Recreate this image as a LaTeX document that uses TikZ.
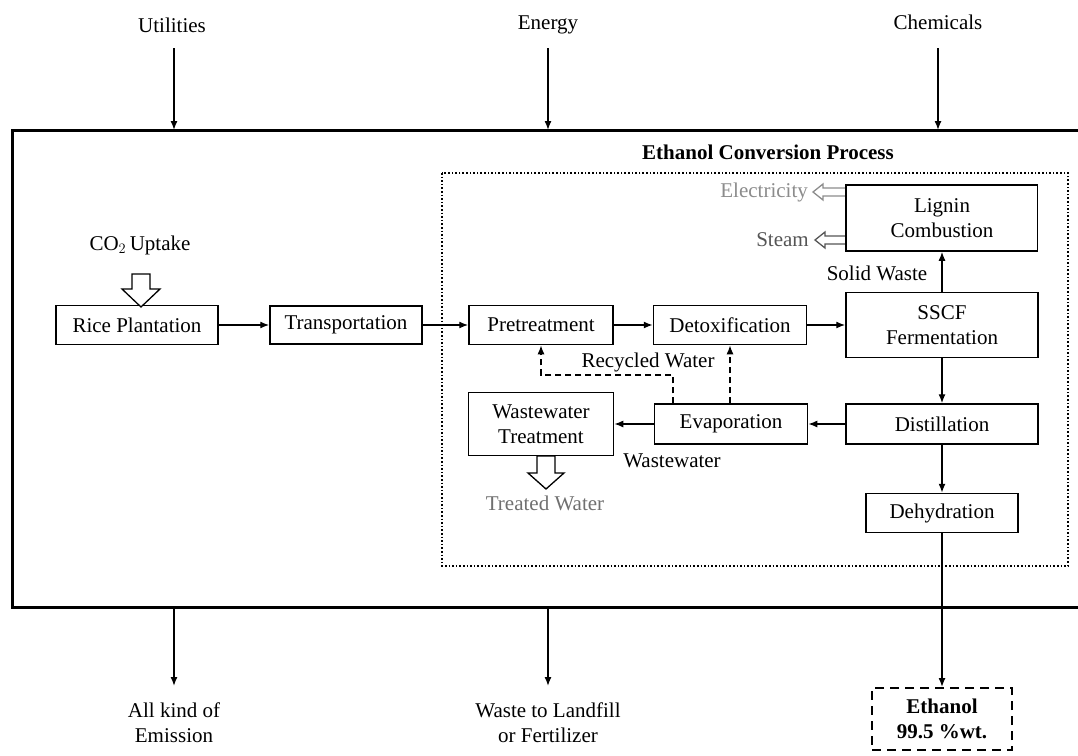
\documentclass[tikz,border=0pt]{standalone}
\usepackage{fontspec}
\setmainfont{Liberation Serif}
\usetikzlibrary{arrows.meta}
\definecolor{lgray}{HTML}{8C8C8C}
\definecolor{mgray}{HTML}{555555}
\definecolor{tgray}{HTML}{707070}
\begin{document}
\begin{tikzpicture}[x=1pt,y=-1pt,
  font=\fontsize{21}{25}\selectfont,
  box/.style={draw, line width=1.5pt, inner sep=0pt, align=center},
  lbl/.style={inner sep=0pt, align=center},
  arr/.style={line width=1.4pt, -{Latex[length=9pt,width=7pt]}},
  rec/.style={arr, dash pattern=on 6pt off 4pt},
  hollow/.style={draw, line width=1.3pt, fill=white, line join=miter},
  outer/.style={line width=3pt},
  frame/.style={line width=1.6pt, dotted}
]
\clip (0,0) rectangle (1078,755);
\fill[white] (0,0) rectangle (1078,755);

% outer system boundary
\draw[outer] (1100,130) -- (12,130) -- (12,607) -- (1100,607);
% dotted process frame
\draw[frame] (442,173) rectangle (1068,566);
\node[lbl, font=\fontsize{21}{25}\selectfont\bfseries] (ecp) at (768,152) {Ethanol Conversion Process};

% boxes
\node[box, minimum width=162pt, minimum height=39pt] (rice) at (137,325) {Rice Plantation};
\node[box, minimum width=152pt, minimum height=38pt] (trans) at (346,325) {Transportation};
\node[box, minimum width=144pt, minimum height=39pt] (pre) at (541,325) {Pretreatment};
\node[box, minimum width=153pt, minimum height=39pt] (detox) at (730,325) {Detoxification};
\node[box, minimum width=192pt, minimum height=65pt] (sscf) at (942,325) {SSCF\\Fermentation};
\node[box, minimum width=191pt, minimum height=66pt] (lignin) at (942,218) {Lignin\\Combustion};
\node[box, minimum width=192pt, minimum height=40pt] (dist) at (942,424) {Distillation};
\node[box, minimum width=153pt, minimum height=40pt] (evap) at (731,424) {Evaporation};
\node[box, minimum width=145pt, minimum height=63pt] (wwt) at (541,424) {Wastewater\\Treatment};
\node[box, minimum width=152pt, minimum height=39pt] (dehyd) at (942,513) {Dehydration};
\node[box, dashed, dash pattern=on 9pt off 6pt, line width=2pt, minimum width=140pt, minimum height=62pt,
      font=\fontsize{21}{25}\selectfont\bfseries] (eth) at (942,719) {Ethanol\\99.5 \%wt.};

% labels
\node[lbl] (co2) at (140,245) {CO$_2$\,Uptake};
\node[lbl] (solid) at (877,273) {Solid Waste};
\node[lbl] (recw) at (648,362) {Recycled Water};
\node[lbl] (wastew) at (672,461) {Wastewater};
\node[lbl, anchor=east, text=lgray] (elec) at (808,192) {Electricity};
\node[lbl, anchor=east, text=mgray] (steam) at (809,240) {Steam};
\node[lbl, text=tgray] (treated) at (545,503) {Treated Water};

% inputs and outputs
\node[lbl] (util) at (172,25) {Utilities};
\node[lbl] (energy) at (548,25) {Energy};
\node[lbl] (chem) at (938,22) {Chemicals};
\node[lbl] (emis) at (174,723) {All kind of\\Emission};
\node[lbl] (waste) at (548,723) {Waste to Landfill\\or Fertilizer};
\coordinate (utilIn) at (174,130);
\coordinate (energyIn) at (548,130);
\coordinate (chemIn) at (938,130);
\coordinate (emisOut) at (174,607);
\coordinate (wasteOut) at (548,607);
\coordinate (utilTop) at (174,48);
\coordinate (energyTop) at (548,48);
\coordinate (chemTop) at (938,48);
\coordinate (emisEnd) at (174,686);
\coordinate (wasteEnd) at (548,686);

\draw[arr] (utilTop) -- (utilIn);
\draw[arr] (energyTop) -- (energyIn);
\draw[arr] (chemTop) -- (chemIn);
\draw[arr] (emisOut) -- (emisEnd);
\draw[arr] (wasteOut) -- (wasteEnd);

% main flow
\draw[arr] (rice) -- (trans);
\draw[arr] (trans) -- (pre);
\draw[arr] (pre) -- (detox);
\draw[arr] (detox) -- (sscf);
\draw[arr] (sscf) -- (lignin);
\draw[arr] (sscf) -- (dist);
\draw[arr] (dist) -- (evap);
\draw[arr] (evap) -- (wwt);
\draw[arr] (dist) -- (dehyd);
\draw[arr] (dehyd) -- (eth);

% recycled water
\coordinate (r1) at (673,375);
\draw[rec] (evap.north -| r1) -- (r1) -| (pre.south);
\draw[rec] (evap.north -| detox.south) -- (detox.south);

% hollow arrows
\draw[hollow, shift={(141,307)}] (-9,-33) -- (9,-33) -- (9,-18) -- (19,-18) -- (0,0) -- (-19,-18) -- (-9,-18) -- cycle;
\draw[hollow, shift={(546,489)}] (-9,-33) -- (9,-33) -- (9,-16) -- (18,-16) -- (0,0) -- (-18,-16) -- (-9,-16) -- cycle;
\draw[hollow, draw=lgray, shift={(813,192)}] (33,-4) -- (10,-4) -- (10,-8) -- (0,0) -- (10,8) -- (10,4) -- (33,4) -- cycle;
\draw[hollow, draw=mgray, shift={(815,240)}] (31,-4) -- (10,-4) -- (10,-8) -- (0,0) -- (10,8) -- (10,4) -- (31,4) -- cycle;
% redraw lignin left edge over arrow ends
\draw[line width=1.5pt] (lignin.north west) -- (lignin.south west);
\end{tikzpicture}
\end{document}
